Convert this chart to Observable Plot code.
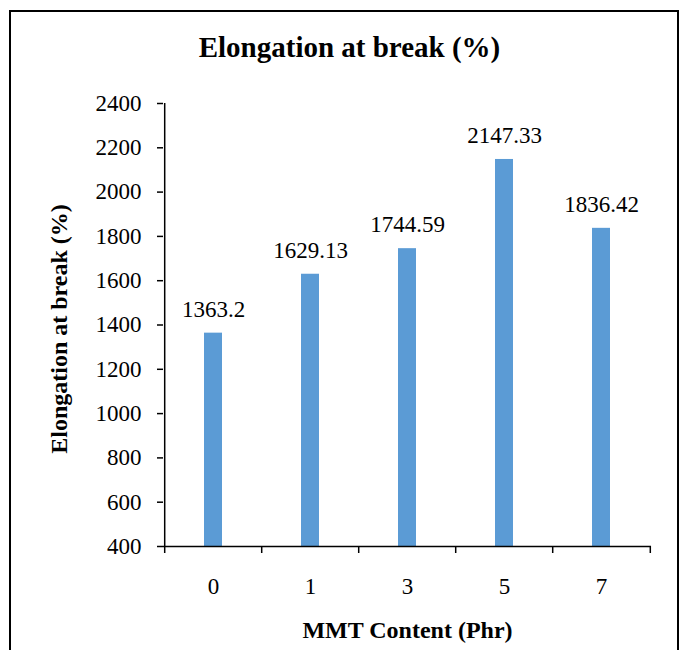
<!DOCTYPE html>
<html>
<head>
<meta charset="utf-8">
<script src="https://cdn.jsdelivr.net/npm/d3@7"></script>
<script src="https://cdn.jsdelivr.net/npm/@observablehq/plot@0.6"></script>
<style>
  body { margin: 0; background: #fff; }
  #wrap { position: relative; width: 683px; height: 650px; overflow: hidden; font-family: "Liberation Serif", "Times New Roman", serif; }
  #chart { position: absolute; left: 0; top: 0; }
  #chart svg, #chart svg text { font-family: "Liberation Serif", "Times New Roman", serif !important; }
  #frame { position: absolute; left: 9px; top: 10px; width: 670px; height: 700px; border: 2.5px solid #000; box-sizing: border-box; pointer-events: none; }
  #title { position: absolute; left: 0; width: 699px; top: 33px; text-align: center; font-weight: bold; font-size: 29px; line-height: 29px; color: #000; }
</style>
</head>
<body>
<div id="wrap">
  <div id="chart"></div>
  <div id="title">Elongation at break (%)</div>
  <div id="frame"></div>
</div>
<script>
const categories = ["0", "1", "3", "5", "7"];
const values = [1363.2, 1629.13, 1744.59, 2147.33, 1836.42];
const valueLabels = ["1363.2", "1629.13", "1744.59", "2147.33", "1836.42"];
const yTicks = [400, 600, 800, 1000, 1200, 1400, 1600, 1800, 2000, 2200, 2400];
const yTitle = "Elongation at break (%)";
const xTitle = "MMT Content (Phr)";

const data = categories.map((c, i) => ({c, v: values[i], label: valueLabels[i]}));

const W = 683, H = 650, mL = 163, mR = 32, mT = 103, mB = 104;
const half = (W - mL - mR) / categories.length / 2;
const yMin = yTicks[0];
const frameH = H - mT - mB;

const chart = Plot.plot({
  width: W, height: H,
  marginLeft: mL, marginRight: mR, marginTop: mT, marginBottom: mB,
  style: { fontFamily: "Liberation Serif, serif", fontSize: "23px", background: "transparent", color: "#000", overflow: "visible" },
  x: { domain: categories, paddingInner: 0.816, paddingOuter: 0.408, label: null },
  y: { domain: [yTicks[0], yTicks[yTicks.length - 1]], label: null },
  marks: [
    Plot.barY(data, { x: "c", y1: yMin, y2: "v", fill: "#5B9BD5" }),
    Plot.ruleY([yMin], { stroke: "#000", strokeWidth: 1.5 }),
    Plot.ruleX([categories[0]], { dx: -half, stroke: "#000", strokeWidth: 1.5 }),
    Plot.ruleX(categories, { dx: -half, stroke: "#000", strokeWidth: 1.5, insetTop: frameH - 7, dy: 7 }),
    Plot.ruleX([categories[categories.length - 1]], { dx: half, stroke: "#000", strokeWidth: 1.5, insetTop: frameH - 7, dy: 7 }),
    Plot.axisY({ ticks: yTicks, tickFormat: "d", tickSize: 6, tickPadding: 16, stroke: "#000", strokeWidth: 1.5, label: null, fontSize: 23 }),
    Plot.axisX({ tickSize: 0, tickPadding: 31, label: null, fontSize: 23 }),
    Plot.text(data, { x: "c", y: "v", text: "label", lineAnchor: "middle", dy: -24, fontSize: 23, fill: "#000" }),
    Plot.text([xTitle], { frameAnchor: "bottom", lineAnchor: "middle", dy: 84, fontSize: 24, fontWeight: "bold", fill: "#000" }),
    Plot.text([yTitle], { frameAnchor: "left", rotate: -90, textAnchor: "middle", lineAnchor: "middle", dx: 59 - mL, dy: 4, fontSize: 24, fontWeight: "bold", fill: "#000" })
  ]
});
document.getElementById("chart").appendChild(chart);
</script>
</body>
</html>
